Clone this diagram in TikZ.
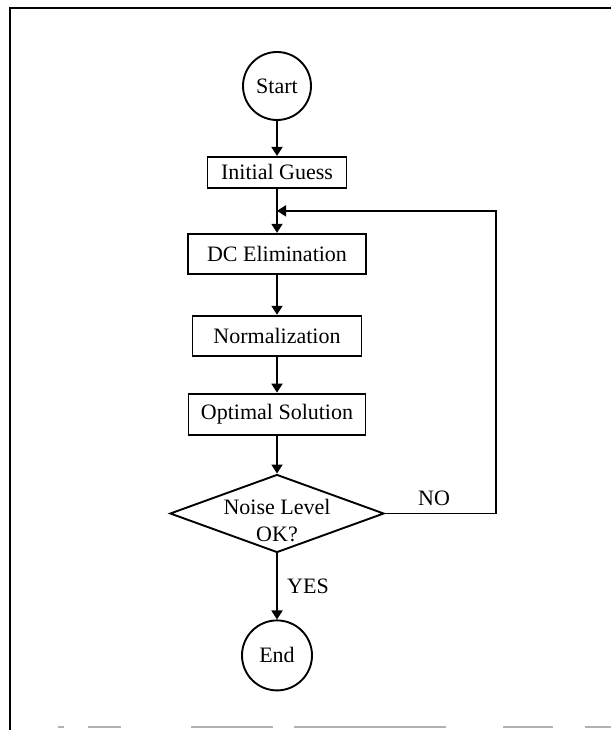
\documentclass[tikz,border=0pt]{standalone}
\usepackage{fontspec}
\setmainfont{Liberation Serif}
\usetikzlibrary{positioning, shapes.geometric, arrows.meta}

\begin{document}
\begin{tikzpicture}[
    font=\fontsize{22}{27}\selectfont,
    box/.style={draw, line width=1.9pt, align=center, inner sep=2pt, minimum height=40pt},
    term/.style={draw, circle, line width=1.9pt, inner sep=0pt, minimum size=68pt},
    decision/.style={draw, diamond, line width=1.9pt, inner sep=0pt, minimum width=214pt, minimum height=78pt},
    lbl/.style={inner sep=1pt},
    >={Triangle[length=9pt, width=11pt]}, arr/.style={->, line width=1.8pt},
  ]
    \useasboundingbox (0,0) rectangle (611pt,-730pt);
    \draw[line width=2.4pt] (611pt,-8pt) -- (10pt,-8pt) -- (10pt,-730pt);
    \foreach \a/\b in {58/64, 88/121, 191/273, 294/446, 503/553, 585/611}
      \draw[black!30, line width=1.5pt] (\a pt,-727pt) -- (\b pt,-727pt);
    \node[term] (start) at (277pt,-86pt) {Start};
    \node[box, below=35pt of start, minimum width=139pt, minimum height=31pt] (guess) {Initial Guess};
    \node[box, below=44pt of guess, minimum width=178pt] (elim) {DC Elimination};
    \node[box, below=40pt of elim, minimum width=169pt] (norm) {Normalization};
    \node[box, below=36pt of norm, minimum width=177pt, minimum height=41pt] (optim) {Optimal Solution};
    \node[decision, below=38pt of optim] (noise) {};
    \node[align=center, inner sep=0pt] (noisetext) at ([yshift=-7pt]noise.center) {Noise Level\\OK?};
    \node[term, below=66pt of noise, minimum size=70pt] (end) {End};
    \coordinate[below=22pt of guess] (join);
    \coordinate[right=111pt of noise.east] (turn);
    \node[lbl, above right=7pt and 32pt of noise.east] (no) {NO};
    \node[lbl, below right=24pt and 9pt of noise.south] (yes) {YES};
    \draw[arr] (start) -- (guess);
    \draw[arr] (guess) -- (elim);
    \draw[arr] (elim) -- (norm);
    \draw[arr] (norm) -- (optim);
    \draw[arr] (optim) -- (noise);
    \draw[arr] (noise.south) -- (end);
    \draw[arr] (noise.east) -- (turn) |- (join);
  \end{tikzpicture}
\end{document}
